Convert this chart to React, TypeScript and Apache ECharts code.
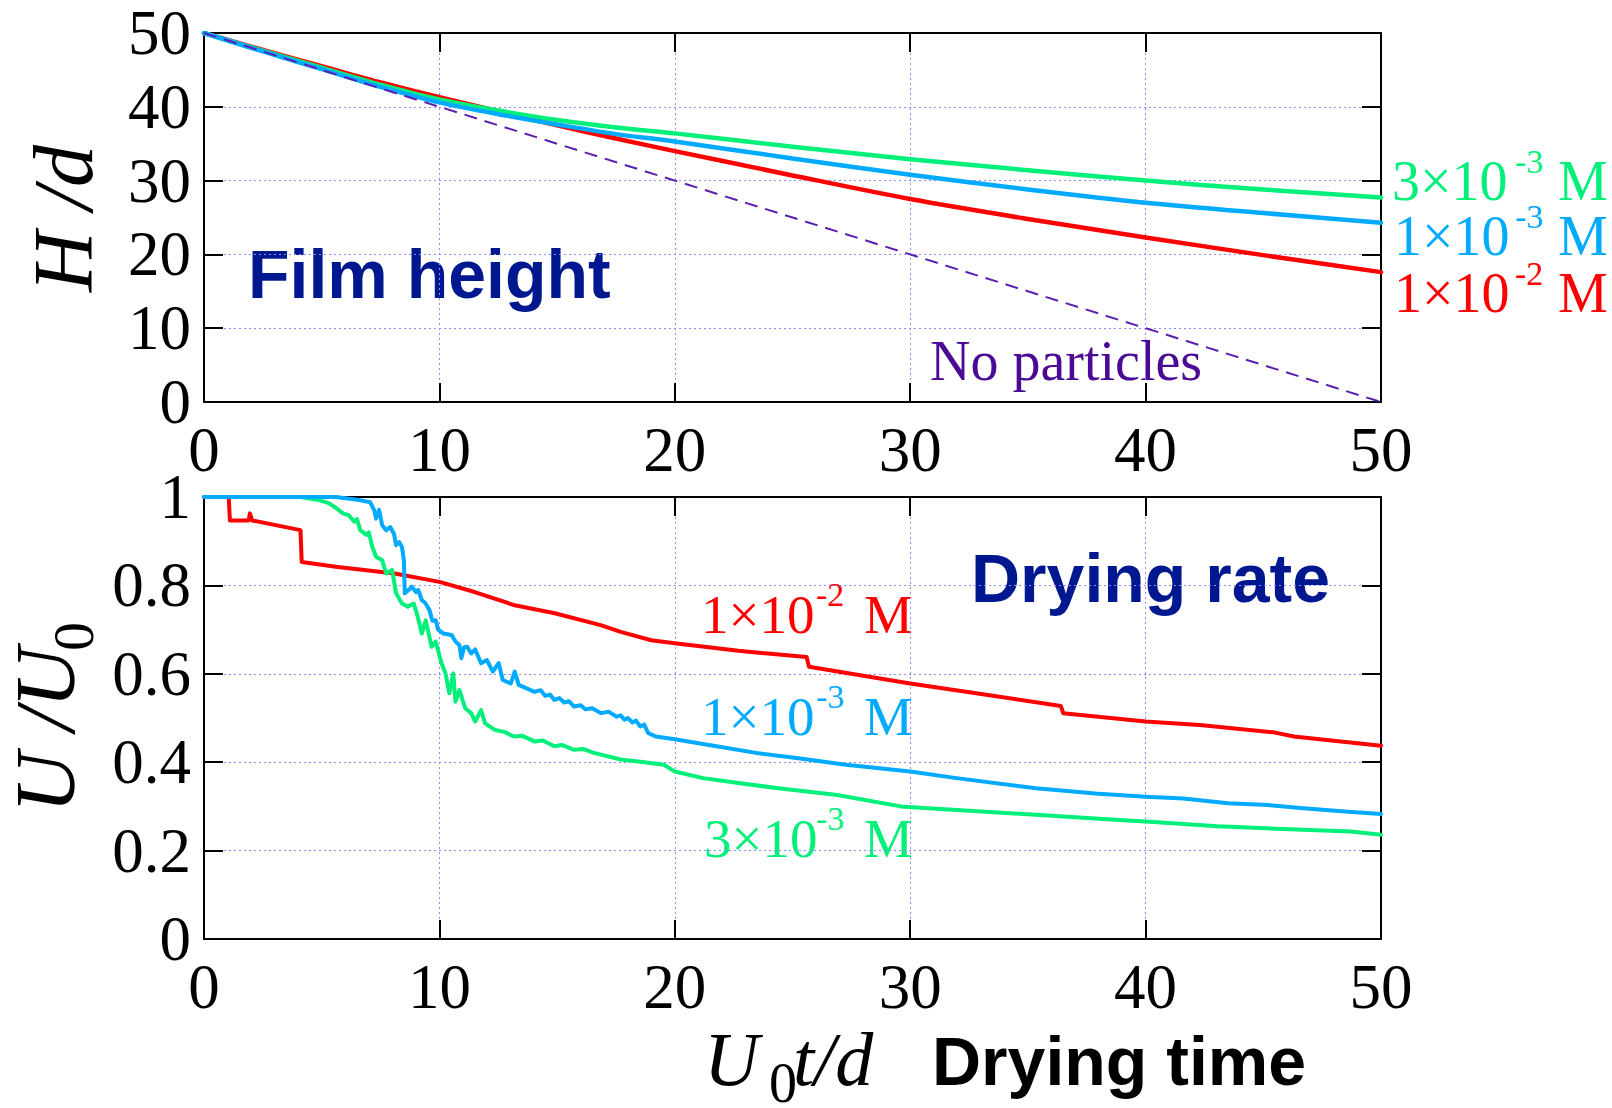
import React, { useEffect, useRef } from 'react';
import * as echarts from 'echarts';

// ---------- DATA ----------
// Top panel: film height H/d versus drying time U0 t/d
const heightTime = [0, 2.5, 5, 7.5, 10, 12.5, 15, 17.5, 20, 25, 30, 35, 40, 45, 50];
const heightRed = [50, 47.7, 45.5, 43.3, 41.3, 39.4, 37.5, 35.7, 34.0, 30.7, 27.5, 24.8, 22.3, 19.9, 17.6];
const heightGreen = [50, 47.6, 45.3, 43.0, 41.0, 39.5, 38.2, 37.2, 36.4, 34.6, 32.9, 31.4, 30.0, 28.8, 27.7];
const heightBlue = [50, 47.5, 45.1, 42.7, 40.6, 39.0, 37.6, 36.3, 35.3, 33.0, 30.8, 28.8, 27.0, 25.6, 24.3];
const noParticlesTime = [0, 50];
const noParticlesHeight = [50, 0];

// Bottom panel: drying rate U/U0 versus drying time, [time, rate]
const rateRed: number[][] = [
  [0, 1], [1.05, 1], [1.1, 0.947], [1.9, 0.947], [1.95, 0.963], [2.05, 0.947], [4.1, 0.925], [4.15, 0.853],
  [5.6, 0.842], [8.1, 0.827], [10, 0.808], [11.5, 0.785], [13.2, 0.755], [14.9, 0.737], [16.85, 0.71],
  [17.7, 0.695], [19, 0.676], [20, 0.669], [22.7, 0.652], [25.6, 0.638], [25.7, 0.616], [30, 0.578],
  [32.8, 0.556], [36.4, 0.527], [36.5, 0.511], [40, 0.492], [42.3, 0.484], [45.5, 0.467], [46.3, 0.458], [50, 0.437],
];
const rateBlue: number[][] = [
  [0, 1], [5.6, 1], [6.5, 0.994], [7.06, 0.988], [7.23, 0.97], [7.31, 0.951], [7.44, 0.971], [7.57, 0.936],
  [7.74, 0.925], [7.91, 0.932], [8.07, 0.917], [8.16, 0.891], [8.29, 0.898], [8.41, 0.887], [8.49, 0.857],
  [8.53, 0.782], [8.7, 0.79], [8.83, 0.797], [9.0, 0.785], [9.1, 0.79], [9.25, 0.767], [9.4, 0.76], [9.58, 0.744],
  [9.7, 0.72], [9.84, 0.721], [9.95, 0.7], [10.17, 0.691], [10.51, 0.688], [10.7, 0.672], [10.85, 0.665],
  [10.93, 0.635], [11.05, 0.66], [11.18, 0.661], [11.35, 0.646], [11.52, 0.655], [11.77, 0.624], [12.02, 0.631],
  [12.27, 0.605], [12.52, 0.624], [12.69, 0.586], [13.03, 0.578], [13.2, 0.605], [13.37, 0.575], [14.04, 0.559],
  [14.3, 0.563], [14.5, 0.55], [14.7, 0.553], [14.88, 0.541], [15.1, 0.545], [15.3, 0.535], [15.5, 0.538],
  [15.72, 0.526], [16.0, 0.529], [16.2, 0.52], [16.5, 0.522], [16.85, 0.511], [17.2, 0.514], [17.52, 0.503],
  [17.7, 0.506], [17.86, 0.496], [18.0, 0.5], [18.2, 0.49], [18.35, 0.494], [18.53, 0.481], [18.7, 0.485],
  [18.87, 0.466], [19.2, 0.458], [20, 0.452], [21.9, 0.435],
  [23.57, 0.42], [25.25, 0.409], [27.27, 0.394], [30, 0.379], [31.97, 0.364], [35.34, 0.341], [37.86, 0.329],
  [40, 0.322], [41.6, 0.318], [43.5, 0.307], [45.2, 0.303], [46.7, 0.296], [48.6, 0.288], [50, 0.283],
];
const rateGreen: number[][] = [
  [0, 1], [4.1, 1], [4.8, 0.994], [5.3, 0.986], [5.64, 0.974], [5.9, 0.963], [6.14, 0.959], [6.39, 0.944],
  [6.5, 0.95], [6.64, 0.925], [6.9, 0.914], [7.0, 0.92], [7.15, 0.887], [7.31, 0.865], [7.57, 0.857],
  [7.74, 0.827], [7.99, 0.835], [8.16, 0.782], [8.41, 0.759], [8.66, 0.752], [8.91, 0.759], [9.08, 0.729],
  [9.25, 0.691], [9.42, 0.721], [9.67, 0.661], [9.84, 0.673], [10.09, 0.624], [10.26, 0.601], [10.42, 0.556],
  [10.59, 0.601], [10.68, 0.537], [10.85, 0.563], [11.1, 0.522], [11.35, 0.511], [11.52, 0.492], [11.77, 0.518],
  [11.94, 0.488], [12.36, 0.473], [12.8, 0.468], [13.0, 0.462], [13.2, 0.458], [13.5, 0.46], [14.04, 0.447],
  [14.4, 0.449], [14.88, 0.436], [15.2, 0.439], [15.72, 0.428], [16.1, 0.43], [16.56, 0.421],
  [17.7, 0.406], [18.53, 0.401], [19.54, 0.394], [20, 0.379], [21.2, 0.364], [22.7, 0.353], [24.4, 0.341],
  [26.9, 0.326], [29.6, 0.3], [31.97, 0.292], [35.34, 0.281], [38.7, 0.27], [40, 0.266], [43.06, 0.255],
  [46.7, 0.247], [48.7, 0.243], [50, 0.236],
];

const concentrationLabels = ['3×10', '1×10', '1×10'];
const concentrationExponents = ['-3', '-3', '-2'];

// ---------- STYLE ----------
const RED = '#ff0000';
const GREEN = '#00f07a';
const BLUE = '#00aaff';
const PURPLE = '#4b0a96';
const NAVY = '#00188f';
const SERIF = "'Liberation Serif', 'Times New Roman', serif";
const SANS = "'Liberation Sans', Arial, sans-serif";

type TxtOpts = { italic?: boolean; bold?: boolean; sans?: boolean; color?: string };
function txt(text: string, x: number, base: number, size: number, o: TxtOpts = {}) {
  const c = o.sans ? 0.3467 : 0.3375;
  return {
    type: 'text',
    x,
    y: base - c * size,
    silent: true,
    style: {
      text,
      fontSize: size,
      lineHeight: Math.round(size * 0.8),
      fontFamily: o.sans ? SANS : SERIF,
      fontStyle: o.italic ? 'italic' : 'normal',
      fontWeight: o.bold ? 'bold' : 'normal',
      fill: o.color || '#000',
      align: 'left',
      verticalAlign: 'middle',
      textAlign: 'left',
      textVerticalAlign: 'middle',
    },
  };
}

function concLabel(i: number, color: string, x: number, base: number, size: number, supDx: number, mDx: number) {
  return [
    txt(concentrationLabels[i], x, base, size, { color }),
    txt(concentrationExponents[i], x + supDx, base - 27, 34, { color }),
    txt('M', x + mDx, base, size, { color }),
  ];
}

const tickLine = { color: '#000', width: 2 };
const gridLine = { color: '#8c8cff', width: 1, type: [2, 3] };

function xMain(grid: number) {
  return {
    type: 'value', gridIndex: grid, min: 0, max: 50, interval: 10, position: 'bottom',
    axisLine: { show: true, onZero: false, lineStyle: tickLine },
    axisTick: { show: true, inside: true, length: 19, lineStyle: tickLine },
    axisLabel: { show: true, margin: 16, color: '#000', fontSize: 63, lineHeight: 63, fontFamily: SERIF },
    splitLine: { show: true, lineStyle: gridLine },
  };
}
function xMirror(grid: number) {
  return {
    type: 'value', gridIndex: grid, min: 0, max: 50, interval: 10, position: 'top',
    axisLine: { show: true, onZero: false, lineStyle: tickLine },
    axisTick: { show: true, inside: true, length: 19, lineStyle: tickLine },
    axisLabel: { show: false },
    splitLine: { show: false },
  };
}
function yMain(grid: number, max: number, interval: number) {
  return {
    type: 'value', gridIndex: grid, min: 0, max, interval, position: 'left',
    axisLine: { show: true, onZero: false, lineStyle: tickLine },
    axisTick: { show: true, inside: true, length: 19, lineStyle: tickLine },
    axisLabel: {
      show: true, margin: 13, color: '#000', fontSize: 63, lineHeight: 52, fontFamily: SERIF,
      formatter: (v: number) => String(Math.round(v * 10) / 10),
    },
    splitLine: { show: true, lineStyle: gridLine },
  };
}
function yMirror(grid: number, max: number, interval: number) {
  return {
    type: 'value', gridIndex: grid, min: 0, max, interval, position: 'right',
    axisLine: { show: true, onZero: false, lineStyle: tickLine },
    axisTick: { show: true, inside: true, length: 19, lineStyle: tickLine },
    axisLabel: { show: false },
    splitLine: { show: false },
  };
}

function lineSeries(data: number[][], color: string, width: number, xi: number, yi: number, smooth: boolean) {
  return {
    type: 'line', xAxisIndex: xi, yAxisIndex: yi, data, showSymbol: false, symbol: 'none',
    smooth: smooth ? 0.3 : false, silent: true, clip: true,
    lineStyle: { color, width, cap: 'round', join: 'round' },
  };
}

const pairs = (xs: number[], ys: number[]) => xs.map((x, i) => [x, ys[i]]);

function buildOption() {
  const graphics: any[] = [
    txt('Film height', 248, 298, 68, { bold: true, sans: true, color: NAVY }),
    txt('Drying rate', 971, 602, 68, { bold: true, sans: true, color: NAVY }),
    txt('No particles', 930, 380, 56, { color: PURPLE }),
    ...concLabel(0, GREEN, 1392, 200, 56, 123, 166),
    ...concLabel(1, BLUE, 1394, 255, 56, 121, 164),
    ...concLabel(2, RED, 1394, 312, 56, 121, 164),
    ...concLabel(2, RED, 701, 633, 55, 115, 163),
    ...concLabel(1, BLUE, 701, 735, 55, 115, 163),
    ...concLabel(0, GREEN, 704, 857, 55, 112, 160),
    {
      type: 'group', x: 92, y: 292, rotation: Math.PI / 2, silent: true,
      children: [txt('H /d', 0, 0, 84, { italic: true })],
    },
    {
      type: 'group', x: 74, y: 813, rotation: Math.PI / 2, silent: true,
      children: [txt('U /U', 0, 0, 84, { italic: true }), txt('0', 162, 19, 58)],
    },
    txt('U', 704, 1085, 76, { italic: true }),
    txt('0', 769, 1102, 56),
    txt('t/d', 793, 1085, 76, { italic: true }),
    txt('Drying time', 932, 1085, 68, { bold: true, sans: true }),
  ];

  return {
    animation: false,
    backgroundColor: '#ffffff',
    grid: [
      { left: 204, top: 33, width: 1177, height: 369, containLabel: false },
      { left: 204, top: 497, width: 1177, height: 442, containLabel: false },
    ],
    xAxis: [xMain(0), xMirror(0), xMain(1), xMirror(1)],
    yAxis: [yMain(0, 50, 10), yMirror(0, 50, 10), yMain(1, 1, 0.2), yMirror(1, 1, 0.2)],
    series: [
      lineSeries(pairs(heightTime, heightRed), RED, 4.5, 0, 0, true),
      lineSeries(pairs(heightTime, heightGreen), GREEN, 4.5, 0, 0, true),
      lineSeries(pairs(heightTime, heightBlue), BLUE, 4.5, 0, 0, true),
      {
        type: 'line', xAxisIndex: 0, yAxisIndex: 0, data: pairs(noParticlesTime, noParticlesHeight),
        showSymbol: false, symbol: 'none', silent: true,
        lineStyle: { color: '#5a1fb0', width: 2, type: [13, 8] },
      },
      lineSeries(rateRed, RED, 4, 2, 2, false),
      lineSeries(rateGreen, GREEN, 4, 2, 2, false),
      lineSeries(rateBlue, BLUE, 4, 2, 2, false),
    ],
    graphic: { elements: graphics },
  };
}

export default function App() {
  const ref = useRef<HTMLDivElement>(null);
  useEffect(() => {
    document.body.style.margin = '0';
    const chart = echarts.init(ref.current as HTMLDivElement, null, { renderer: 'svg' });
    chart.setOption(buildOption() as any);
    return () => chart.dispose();
  }, []);
  return (
    <div
      ref={ref}
      style={{ position: 'absolute', left: 0, top: 0, width: 1612, height: 1108, background: '#fff' }}
    />
  );
}
